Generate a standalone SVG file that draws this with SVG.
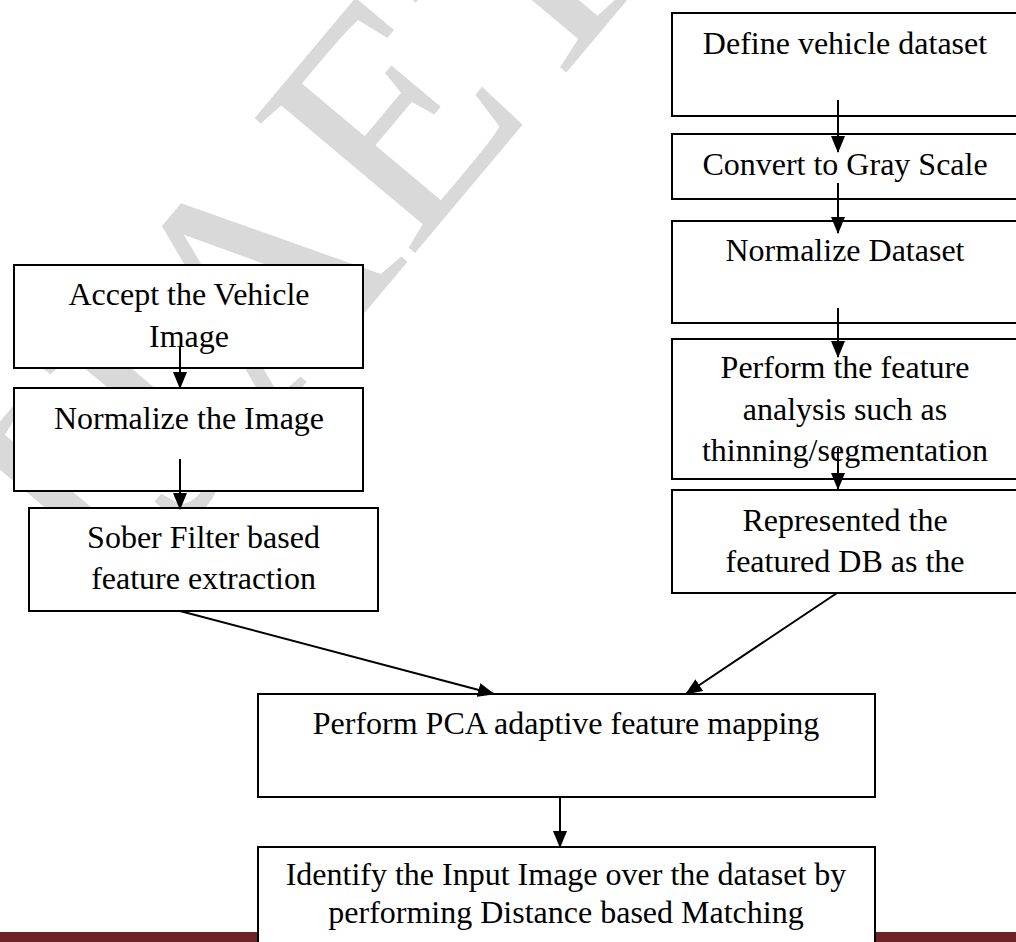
<svg xmlns="http://www.w3.org/2000/svg" width="1016" height="942" viewBox="0 0 1016 942">
<defs>
<style>
.box{fill:#fff;stroke:#000;stroke-width:2}
.t{font-family:"Liberation Serif","Times New Roman",serif;font-size:32px;fill:#000;text-anchor:middle}
.c{stroke:#000;stroke-width:2;fill:none;marker-end:url(#ah)}
.wm{font-family:"Liberation Serif","Times New Roman",serif;font-size:320px;fill:#d9d9d9}
</style>
<marker id="ah" viewBox="0 0 17 14" refX="16" refY="7" markerWidth="17" markerHeight="14" markerUnits="userSpaceOnUse" orient="auto">
<path d="M0,0 L17,7 L0,14 Z" fill="#000"/>
</marker>
</defs>
<rect width="1016" height="942" fill="#fff"/>
<g id="watermark">
<text class="wm" transform="translate(112,614) rotate(-50)">IJAET</text>
</g>
<rect x="0" y="932" width="1016" height="10" fill="#6e2424"/>
<g id="n-define"><rect class="box" x="672" y="13" width="347" height="103"/><text class="t" x="845" y="54">Define vehicle dataset</text></g>
<g id="n-gray"><rect class="box" x="672" y="134" width="347" height="65"/><text class="t" x="845" y="175">Convert to Gray Scale</text></g>
<g id="n-normds"><rect class="box" x="672" y="221" width="347" height="102"/><text class="t" x="845" y="261">Normalize Dataset</text></g>
<g id="n-feat"><rect class="box" x="672" y="339" width="347" height="140"/><text class="t" x="845" y="378">Perform the feature</text><text class="t" x="845" y="420">analysis such as</text><text class="t" x="845" y="461">thinning/segmentation</text></g>
<g id="n-repr"><rect class="box" x="672" y="490" width="347" height="103"/><text class="t" x="845" y="531">Represented the</text><text class="t" x="845" y="572">featured DB as the</text></g>
<g id="n-accept"><rect class="box" x="14" y="265" width="349" height="103"/><text class="t" x="189" y="305">Accept the Vehicle</text><text class="t" x="189" y="347">Image</text></g>
<g id="n-normimg"><rect class="box" x="14" y="388" width="349" height="103"/><text class="t" x="189" y="429">Normalize the Image</text></g>
<g id="n-sober"><rect class="box" x="29" y="508" width="349" height="103"/><text class="t" x="203.5" y="548">Sober Filter based</text><text class="t" x="203.5" y="589">feature extraction</text></g>
<g id="n-pca"><rect class="box" x="258" y="694" width="617" height="103"/><text class="t" x="566" y="734">Perform PCA adaptive feature mapping</text></g>
<g id="n-identify"><rect class="box" x="258" y="847" width="617" height="120"/><text class="t" x="566" y="885">Identify the Input Image over the dataset by</text><text class="t" x="566" y="923">performing Distance based Matching</text></g>
<g id="connectors">
<line class="c" x1="838" y1="100" x2="838" y2="152"/>
<line class="c" x1="838" y1="183" x2="838" y2="233"/>
<line class="c" x1="838" y1="308" x2="838" y2="357"/>
<line class="c" x1="838" y1="448" x2="838" y2="489"/>
<line class="c" x1="180" y1="347" x2="180" y2="388"/>
<line class="c" x1="180" y1="459" x2="180" y2="509"/>
<line class="c" x1="180" y1="611" x2="494" y2="694"/>
<line class="c" x1="837" y1="593" x2="686" y2="694"/>
<line class="c" x1="560" y1="797" x2="560" y2="847"/>
</g>
</svg>
